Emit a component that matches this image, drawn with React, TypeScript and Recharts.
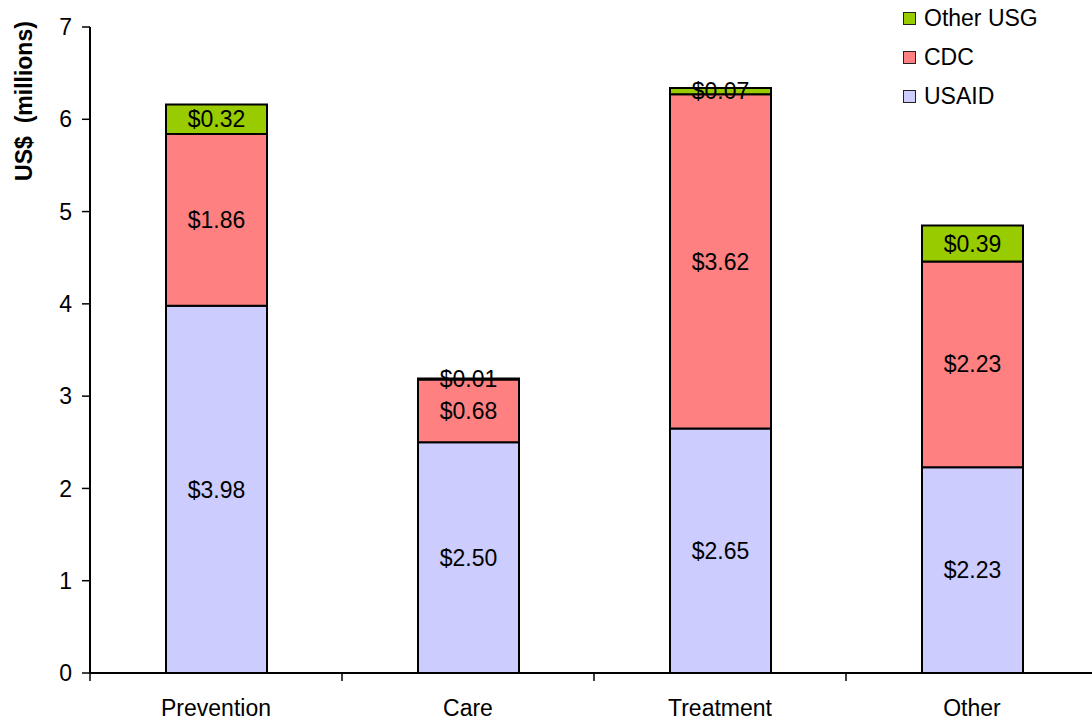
import { BarChart, Bar, XAxis, YAxis, LabelList, Label } from 'recharts';

const categories = ['Prevention', 'Care', 'Treatment', 'Other'];
const usaid = [3.98, 2.5, 2.65, 2.23];
const cdc = [1.86, 0.68, 3.62, 2.23];
const otherUsg = [0.32, 0.01, 0.07, 0.39];
const yTicks = [0, 1, 2, 3, 4, 5, 6, 7];

const series = [
  { key: 'usaid', name: 'USAID', color: '#CCCCFF' },
  { key: 'cdc', name: 'CDC', color: '#FF8080' },
  { key: 'otherUsg', name: 'Other USG', color: '#99CC00' },
];

const data = categories.map((name, i) => ({
  name,
  usaid: usaid[i],
  cdc: cdc[i],
  otherUsg: otherUsg[i],
}));

const FONT = '"Liberation Sans", Arial, sans-serif';
const FS = 23;
const CHART_W = 1100;
const CHART_H = 721;
const PLOT_LEFT = 90;
const PLOT_RIGHT = 2;
const HALF_BAND = (CHART_W - PLOT_LEFT - PLOT_RIGHT) / categories.length / 2;

const money = (v: any) => `$${Number(v).toFixed(2)}`;

// category label plus tick marks on the band edges
const CategoryTick = (props: any) => {
  const { x, y, payload, index } = props;
  const last = index === categories.length - 1;
  return (
    <g>
      <line x1={x - HALF_BAND} x2={x - HALF_BAND} y1={y} y2={y + 8} stroke="#000" strokeWidth={1.5} />
      {last && <line x1={x + HALF_BAND} x2={x + HALF_BAND} y1={y} y2={y + 8} stroke="#000" strokeWidth={1.5} />}
      <text x={x} y={y + 43} textAnchor="middle" fontSize={FS} fontFamily={FONT} fill="#000">
        {payload.value}
      </text>
    </g>
  );
};

const YTitle = () => (
  <text
    x={24}
    y={101}
    transform="rotate(-90 24 101)"
    textAnchor="middle"
    dominantBaseline="central"
    fontSize={FS}
    fontWeight="bold"
    fontFamily={FONT}
    fill="#000"
    style={{ whiteSpace: 'pre' }}
  >
    {'US$  (millions)'}
  </text>
);

export default function App() {
  return (
    <div style={{ position: 'absolute', left: 0, top: 0, width: 1092, height: 721, overflow: 'hidden', background: '#fff' }}>
      <BarChart
        width={CHART_W}
        height={CHART_H}
        data={data}
        margin={{ top: 27, right: PLOT_RIGHT, bottom: 0, left: 0 }}
      >
        <XAxis
          dataKey="name"
          height={48}
          axisLine={{ stroke: '#000', strokeWidth: 2 }}
          tickLine={false}
          tickSize={0}
          tickMargin={0}
          tick={<CategoryTick />}
          interval={0}
        />
        <YAxis
          width={PLOT_LEFT}
          domain={[0, 7]}
          ticks={yTicks}
          allowDataOverflow
          axisLine={{ stroke: '#000', strokeWidth: 2 }}
          tickLine={{ stroke: '#000', strokeWidth: 1.5 }}
          tickSize={8}
          tickMargin={10}
          tick={{ fontSize: FS, fontFamily: FONT, fill: '#000' }}
        >
          <Label content={<YTitle />} />
        </YAxis>
        {series.map((s) => (
          <Bar
            key={s.key}
            dataKey={s.key}
            name={s.name}
            stackId="total"
            fill={s.color}
            stroke="#000"
            strokeWidth={2}
            barSize={101}
            isAnimationActive={false}
          >
            <LabelList dataKey={s.key} position="center" formatter={money} fontSize={FS} fontFamily={FONT} fill="#000" />
          </Bar>
        ))}
      </BarChart>
      <div style={{ position: 'absolute', left: 903, top: -1, fontFamily: FONT, fontSize: FS, color: '#000' }}>
        {[...series].reverse().map((s) => (
          <div key={s.key} style={{ display: 'flex', alignItems: 'center', height: 39 }}>
            <span style={{ width: 11, height: 11, background: s.color, border: '1.5px solid #222', marginRight: 8 }} />
            <span>{s.name}</span>
          </div>
        ))}
      </div>
    </div>
  );
}
